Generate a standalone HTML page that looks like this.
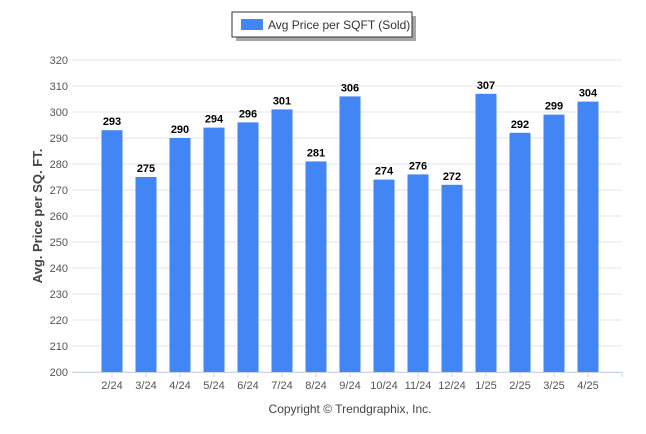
<!DOCTYPE html>
<html><head><meta charset="utf-8"><style>
body{margin:0;background:#fff;font-family:"Liberation Sans",sans-serif;}
svg{display:block}
</style></head><body>
<svg id="c" width="646" height="434">
<g>
<rect x="234" y="14" width="180" height="25" fill="#000" opacity="0.35" transform="translate(2,2)"/>
<rect x="232" y="12" width="180" height="25" fill="#fff" stroke="#333" stroke-width="1"/>
<rect x="241" y="19" width="22" height="11" fill="#4285f4"/>
<text x="268" y="29" font-size="12" fill="#333">Avg Price per SQFT (Sold)</text>
</g>
<text transform="translate(42,216) rotate(-90)" text-anchor="middle" font-size="13" font-weight="bold" fill="#444">Avg. Price per SQ. FT.</text>
<text x="350" y="413" text-anchor="middle" font-size="12" fill="#444">Copyright © Trendgraphix, Inc.</text>
<g id="grid"></g><g id="bars"></g>
</svg>
<script>
const categories=["2/24","3/24","4/24","5/24","6/24","7/24","8/24","9/24","10/24","11/24","12/24","1/25","2/25","3/25","4/25"];
const values=[293,275,290,294,296,301,281,306,274,276,272,307,292,299,304];
const yTicks=[200,210,220,230,240,250,260,270,280,290,300,310,320];
const NS="http://www.w3.org/2000/svg";
const y=v=>372-(v-200)*2.6;
const x=i=>112+i*34;
function mk(t,a,p){const e=document.createElementNS(NS,t);for(const k in a)e.setAttribute(k,a[k]);p.appendChild(e);return e;}
const g=document.getElementById('grid'),b=document.getElementById('bars');
yTicks.forEach(t=>{
const l=mk('line',{x1:72,x2:622,y1:y(t),y2:y(t),stroke:'#e6e6e6'},g);


const tx=mk('text',{x:68,y:y(t)+4,'text-anchor':'end','font-size':11,fill:'#555'},g);
tx.textContent=t;


});
const ax=mk('line',{x1:72,x2:622,y1:372.5,y2:372.5,stroke:'#ccd6eb'},g);


categories.forEach((c,i)=>{
const r=mk('rect',{x:x(i)-10.5,y:y(values[i]),width:21,height:372-y(values[i]),fill:'#4285f4'},b);


const v=mk('text',{x:x(i),y:y(values[i])-5,'text-anchor':'middle','font-size':11,'font-weight':'bold',fill:'#000'},b);
v.textContent=values[i];


const tk=mk('line',{x1:x(i),x2:x(i),y1:372,y2:377,stroke:'#ccd6eb'},b);


const t=mk('text',{x:x(i),y:389,'text-anchor':'middle','font-size':11,fill:'#555'},b);
t.textContent=c;


});
const end=mk('line',{x1:622,x2:622,y1:372,y2:377,stroke:'#ccd6eb'},b);


</script>
</body></html>
